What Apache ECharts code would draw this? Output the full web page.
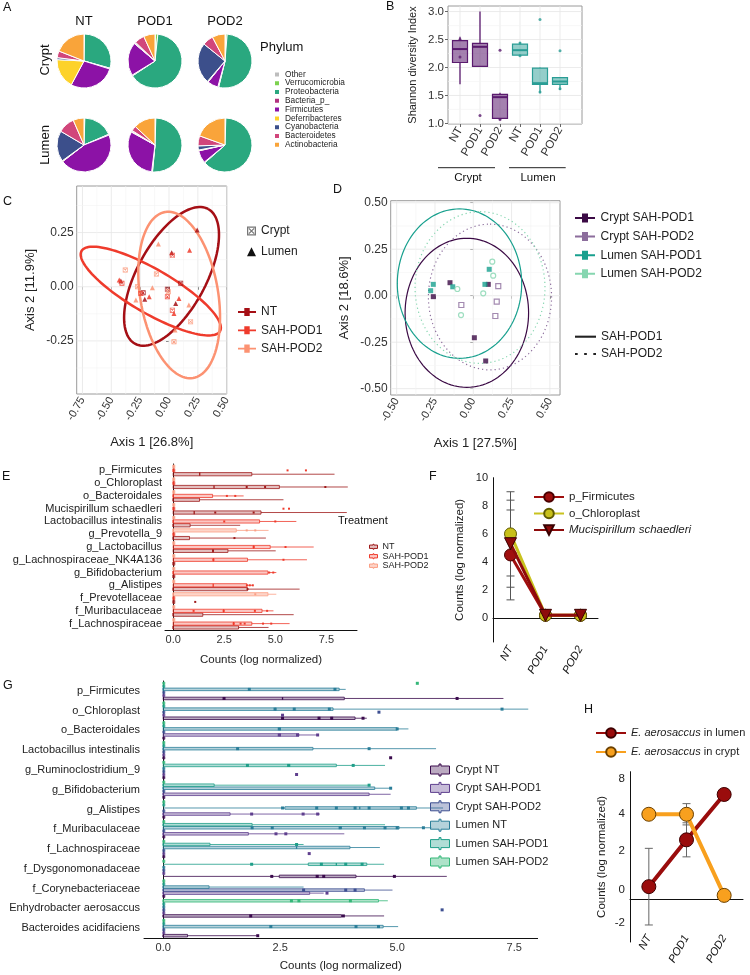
<!DOCTYPE html>
<html>
<head>
<meta charset="utf-8">
<script src="https://cdn.jsdelivr.net/npm/echarts@6/dist/echarts.min.js"></script>
<style>
html,body{margin:0;padding:0;background:#ffffff;}
#chart{width:750px;height:975px;}
</style>
</head>
<body>
<div id="chart"></div>
<script>
// ================= DATA =================
// ---- A: phylum composition (percent, clockwise from 12 o'clock) ----
const phyla = ['Other','Verrucomicrobia','Proteobacteria','Bacteria_p_','Firmicutes','Deferribacteres','Cyanobacteria','Bacteroidetes','Actinobacteria'];
const phylumColors = ['#bdbdbd','#7dd24f','#2aa87f','#b2327f','#8c12a6','#fdd22a','#3c4f8b','#d1467b','#f9a43a'];
const pieCols = ['NT','POD1','POD2'];
const pieRows = ['Crypt','Lumen'];
const cryptNT   = [0.0, 0.3, 29.0, 0.5, 28.0, 18.0, 1.2, 4.0, 19.0];
const cryptPOD1 = [0.2, 1.5, 64.0, 0.5, 20.0, 0.5, 0.5, 6.0, 6.8];
const cryptPOD2 = [0.3, 1.0, 52.5, 0.5, 6.5, 0.5, 24.5, 6.5, 7.7];
const lumenNT   = [0.3, 0.2, 18.0, 0.5, 45.5, 0.5, 18.5, 10.0, 6.5];
const lumenPOD1 = [0.3, 0.2, 51.0, 0.5, 31.0, 0.5, 0.5, 3.0, 13.0];
const lumenPOD2 = [0.3, 0.2, 63.0, 0.5, 7.5, 0.5, 2.5, 6.0, 19.5];

// ---- B: Shannon diversity boxplots [pos, min, q1, median, q3, max] ----
const bCats = ['NT','POD1','POD2','NT','POD1','POD2'];
const bSite = [0,0,0,1,1,1];
const bBoxes = [
  [1, 1.70, 2.09, 2.33, 2.48, 2.55],
  [2, 2.01, 2.02, 2.37, 2.43, 3.00],
  [3, 1.06, 1.09, 1.47, 1.52, 1.55],
  [4, 2.20, 2.22, 2.31, 2.42, 2.45],
  [5, 1.54, 1.70, 1.72, 1.99, 2.00],
  [6, 1.60, 1.70, 1.75, 1.82, 1.82]
];
const bPoints = [[1,2.19],[1,2.50],[2,1.14],[3,2.31],[3,1.07],[4,2.44],[4,2.21],[5,2.86],[5,1.56],[6,2.30],[6,1.62]];
const bTicksY = [1, 1.5, 2, 2.5, 3];
const bMinorY = [1.25, 1.75, 2.25, 2.75];

// ---- C: PCoA (x, y, site 0=crypt 1=lumen) ----
const cTicksX = [-0.75, -0.5, -0.25, 0, 0.25, 0.5];
const cMinorX = [-0.625, -0.375, -0.125, 0.125, 0.375];
const cTicksY = [-0.25, 0, 0.25];
const cMinorY = [-0.375, -0.125, 0.125, 0.375];
const cPtsNT   = [[0.244,0.262,1],[0.023,0.157,1],[0.101,0.016,0],[-0.210,-0.058,1],[-0.224,-0.028,0],[0.058,-0.077,1],[-0.014,-0.012,0],[-0.417,0.026,1]];
const cPtsPOD1 = [[0.178,0.169,1],[-0.431,0.031,1],[-0.408,0.016,0],[-0.244,-0.031,0],[0.086,-0.054,1],[0.029,-0.108,0],[0.043,-0.123,1],[-0.014,-0.046,0],[0.029,0.145,0],[-0.172,-0.046,1]];
const cPtsPOD2 = [[-0.092,0.197,1],[-0.109,0.059,0],[-0.379,0.077,0],[-0.144,-0.005,1],[-0.273,0.0,0],[0.187,-0.161,0],[0.052,-0.200,1],[0.043,-0.254,0],[0.172,-0.084,1],[-0.006,-0.023,0],[-0.287,-0.061,1]];
// ellipses: [cx, cy, ux, uy, vx, vy] (centre + two conjugate semi-axes)
const cEllNT   = [0.022, 0.048, 0.317, 0.311, -0.262, 0.076];
const cEllPOD1 = [-0.158, -0.020, 0.600, -0.185, 0.095, 0.088];
const cEllPOD2 = [0.088, -0.038, -0.121, 0.383, -0.333, -0.030];

// ---- D: PCoA ----
const dTicks = [-0.5, -0.25, 0, 0.25, 0.5];
const dMinor = [-0.375, -0.125, 0.125, 0.375];
const dCryptPOD1 = [[-0.152,0.070],[-0.261,-0.005],[0.007,-0.226],[0.098,0.061],[0.081,-0.351]];
const dCryptPOD2 = [[-0.078,-0.050],[0.163,0.052],[0.153,-0.032],[0.144,-0.109]];
const dLumenPOD1 = [[-0.261,0.061],[-0.278,0.027],[-0.134,0.048],[0.104,0.142],[0.076,0.061]];
const dLumenPOD2 = [[-0.104,0.036],[-0.080,-0.104],[0.124,0.183],[0.130,0.108],[0.065,0.013]];
const dEllCryptPOD1 = [-0.042, -0.092, 0, 0.401, 0.403, 0];
const dEllCryptPOD2 = [0.109, -0.007, 0, 0.392, 0.402, 0];
const dEllLumenPOD1 = [-0.090, 0.065, 0, 0.402, 0.406, 0];
const dEllLumenPOD2 = [0.044, 0.044, 0, 0.408, 0.424, 0];

// ---- E: taxa counts by treatment, [min, q1, median, q3, max] ----
const eCats = ['p_Firmicutes','o_Chloroplast','o_Bacteroidales','Mucispirillum schaedleri','Lactobacillus intestinalis','g_Prevotella_9','g_Lactobacillus','g_Lachnospiraceae_NK4A136','g_Bifidobacterium','g_Alistipes','f_Prevotellaceae','f_Muribaculaceae','f_Lachnospiraceae'];
const eGroups = ['NT','SAH-POD1','SAH-POD2'];
const eNT = [
  [0,0,1.30,3.85,7.90],[0,0,2.00,5.20,8.55],[0,0,0,1.29,5.40],[0,0,1.03,4.30,8.50],[0,0,0,0.83,3.28],
  [0,0,0,0.80,4.54],[0,0,1.95,2.68,5.02],[0,0,0,0,0],[0,0,0,0,0],[0,0,0,3.64,6.19],
  [0,0,0,0,0],[0,0,0,1.45,5.90],[0,0,0,3.20,4.67]
];
const ePOD1 = [
  [0,0,0,0,0],[0,0,0,0,0],[0,0,0,1.93,3.45],[0,0,0,0,0],[0,0,0,4.23,6.03],
  [0,0,0,0,0],[0,0,3.94,4.75,6.88],[0,0,1.97,3.64,6.55],[0,0,0,4.64,5.05],[0,0,1.96,3.61,3.90],
  [0,0,0,0,0],[0,0,2.47,4.35,4.91],[0,0,2.96,3.85,5.70]
];
const ePOD2 = [
  [0,0,0,0,0],[0,0,0,0,0],[0,0,0,0,0],[0,0,0,0,0],[0,0,0,0,0],
  [0,0,0,3.09,4.67],[0,0,0,0,0],[0,0,0,0,0],[0,0,0,0,0],[0,0,0,0,0],
  [0,0,0,4.64,5.05],[0,0,0,0,0],[0,0,0,0,0]
];
// points: [category, group, value]
const ePoints = [
  [0,1,5.6],[0,1,6.5],[1,0,3.6],[1,0,4.5],[1,0,7.45],[2,1,2.63],[2,1,3.04],
  [3,0,2.06],[3,0,3.94],[3,1,5.4],[3,1,5.67],[4,1,5.0],[4,1,2.5],
  [5,2,4.02],[5,2,3.6],[5,0,3.0],[6,1,3.94],[6,1,5.5],[6,0,1.95],[7,1,1.97],[7,1,5.4],
  [8,1,4.7],[8,1,4.9],[9,1,3.61],[9,1,3.75],[9,1,3.9],[9,0,3.64],[10,0,1.08],[10,2,4.02],
  [11,1,1.0],[11,1,2.47],[11,1,4.0],[11,1,4.6],[12,1,2.96],[12,1,3.3],[12,1,3.5],[12,1,4.4],[12,1,4.8]
];
const countTicks = [0, 2.5, 5, 7.5];

// ---- F: mean counts with error bars ----
const fCats = ['NT','POD1','POD2'];
const fFirmicutes = [4.5, 0.2, 0.2];
const fChloroplast = [6.0, 0.2, 0.2];
const fMucispirillum = [5.3, 0.2, 0.2];
const fErrFirmicutes = [[0, 1.3, 7.7]];
const fErrChloroplast = [[0, 3.0, 9.0]];
const fErrMucispirillum = [[0, 2.2, 8.4]];
const fTicksY = [0, 2, 4, 6, 8, 10];

// ---- G: taxa counts by site x treatment ----
const gCats = ['p_Firmicutes','o_Chloroplast','o_Bacteroidales','Lactobacillus intestinalis','g_Ruminoclostridium_9','g_Bifidobacterium','g_Alistipes','f_Muribaculaceae','f_Lachnospiraceae','f_Dysgonomonadaceae','f_Corynebacteriaceae','Enhydrobacter aerosaccus','Bacteroides acidifaciens'];
const gGroups = ['Crypt NT','Crypt SAH-POD1','Crypt SAH-POD2','Lumen NT','Lumen SAH-POD1','Lumen SAH-POD2'];
const gCryptNT = [
  [0,0,2.55,3.87,7.27],[0,0,3.60,4.10,4.35],[0,0,0,0,0],[0,0,0,0,0],[0,0,0,0,0],[0,0,0,0,0],[0,0,0,0,0],
  [0,0,0,0,0],[0,0,0,0,0],[0,2.48,3.30,4.12,6.06],[0,0,0,0,0],[0,0,0,3.81,4.72],[0,0,0,0.52,2.00]
];
const gCryptPOD1 = [
  [0,0,0,0,0],[0,0,0,0,0],[0,0,2.50,2.90,3.30],[0,0,0,0,0],[0,0,0,0,0],[0,0,0,4.40,4.86],[0,0,0,1.43,3.35],
  [0,0,0,1.82,3.87],[0,0,0,0,0],[0,0,0,0,0],[0,0,0,3.13,3.43],[0,0,0,0,0],[0,0,0,0,0]
];
const gCryptPOD2 = [
  [0,0,0,0,0],[0,0,0,0,0],[0,0,0,0,0],[0,0,0,0,0],[0,0,0,0,0],[0,0,0,0,0],[0,0,0,0,0],
  [0,0,0,0,0],[0,0,0,0,0],[0,0,0,0,0],[0,0,0,4.30,4.90],[0,0,0,0,0],[0,0,0,0,0]
];
const gLumenNT = [
  [0,0,0,3.76,3.90],[0,0,2.40,3.63,7.80],[0,0,2.50,5.00,5.24],[0,0,0,3.20,5.83],[0,0,0,0,0],[0,0,0,4.52,4.86],[0,2.60,4.20,5.41,5.98],
  [0,0,3.80,5.04,5.73],[0,0,2.85,3.99,4.63],[0,0,0,0,0],[0,0,0,0.98,3.00],[0,0,0,0,0],[0,0,0,4.70,5.02]
];
const gLumenPOD1 = [
  [0,0,0,0,0],[0,0,0,0,0],[0,0,0,0,0],[0,0,0,0,0],[0,0,2.70,3.70,4.74],[0,0,0,1.09,4.40],[0,0,0,0,0],
  [0,0,0,1.90,4.74],[0,0,0,1.00,3.00],[0,3.10,3.70,4.35,4.72],[0,0,0,0,0],[0,0,0,0,0],[0,0,0,0,0]
];
const gLumenPOD2 = [
  [0,0,0,0,0],[0,0,0,0,0],[0,0,0,0,0],[0,0,0,0,0],[0,0,0,0,0],[0,0,0,0,0],[0,0,0,0,0],
  [0,0,0,0,0],[0,0,0,0,0],[0,0,0,0,0],[0,0,0,0,0],[0,0,0,4.60,4.80],[0,0,0,0,0]
];
const gPoints = [
  [0,0,1.3],[0,0,6.28],[0,3,1.84],[0,3,3.67],[0,5,5.43],
  [1,0,2.55],[1,0,3.33],[1,0,3.6],[1,0,4.27],[1,3,2.39],[1,3,2.8],[1,3,3.55],[1,3,7.24],[1,2,4.61],[1,1,2.55],
  [2,1,2.48],[2,1,2.87],[2,1,3.3],[2,3,2.48],[2,3,5.0],
  [3,3,1.59],[3,3,4.4],[3,0,4.86],
  [4,4,1.8],[4,4,2.68],[4,4,4.06],[4,1,2.85],
  [5,4,4.4],[5,3,4.86],
  [6,3,3.28],[6,3,3.7],[6,3,4.1],[6,3,4.4],[6,3,5.09],[6,3,5.24],[6,3,2.55],[6,1,1.89],[6,1,2.99],[6,1,3.3],
  [7,3,1.9],[7,3,2.33],[7,3,3.78],[7,3,4.3],[7,3,4.74],[7,3,5.0],[7,3,5.56],[7,1,2.41],[7,1,2.62],
  [8,4,2.85],[8,1,3.12],
  [9,4,1.89],[9,4,3.38],[9,4,3.9],[9,4,4.25],[9,0,2.32],[9,0,3.29],[9,0,3.43],[9,0,4.94],
  [10,2,3.0],[10,2,3.9],[10,2,4.1],[10,1,3.5],
  [11,5,2.74],[11,5,2.9],[11,5,4.0],[11,0,1.87],[11,0,3.85],[11,2,5.96],
  [12,3,2.3],[12,3,4.12],[12,3,4.6],[12,0,2.02]
];

// ---- H: E. aerosaccus ----
const hCats = ['NT','POD1','POD2'];
const hLumen = [0.6, 2.8, 4.93];
const hCrypt = [4.0, 4.0, 0.19];
const hErrLumen = [[0, -1.2, 2.4], [1, 2.0, 3.6]];
const hErrCrypt = [[1, 3.5, 4.5]];
const hTicksY = [-2, -1, 0, 1, 2, 3, 4, 5, 6];
const hTickLabels = ['-2', '0', '2', '4', '8'];
const hTickLabelAt = [-1.1, 0.47, 2.28, 4.0, 5.65];

// ================= STYLE / HELPERS =================
const FONT = 'Liberation Sans, Arial, Helvetica, sans-serif';
const strip = n => n.slice(n.indexOf('|') + 1);
const bStroke = ['#5a1a6e', '#2a9d95'];
const bFill = ['rgba(90,26,110,0.55)', 'rgba(42,157,149,0.5)'];
const cColors = ['#a50f15', '#ef3b2c', '#fc9272'];
const dColors = ['#3b0a45', '#8c6d9c', '#18a08e', '#86d6b0'];
const eStroke = ['#9e1a1a', '#ef3b2c', '#fb9f85'];
const eFill = ['rgba(158,26,26,0.28)', 'rgba(239,59,44,0.28)', 'rgba(251,159,133,0.45)'];
const gStroke = ['#3b0b4d', '#5f3f8e', '#3d4f91', '#2a7d98', '#1f9e89', '#35b779'];
const gFill = ['rgba(59,11,77,0.35)', 'rgba(95,63,142,0.35)', 'rgba(61,79,145,0.35)', 'rgba(42,125,152,0.35)', 'rgba(31,158,137,0.35)', 'rgba(53,183,121,0.4)'];
const squareX = 'path://M0,0H10V10H0Z M1.4,1.4V8.6H8.6V1.4Z M1.6,2.6L2.6,1.6L8.4,7.4L7.4,8.4Z M7.4,1.6L8.4,2.6L2.6,8.4L1.6,7.4Z';
const lineSq = 'path://M0,4H7V0.5H13V4H20V6H13V9.5H7V6H0Z';
const boxIcon = 'path://M9.5,0H11.5V2H20V10H11.5V12H9.5V10H1V2H9.5Z';
const solidIcon = 'path://M0,4H20V6H0Z';
const dotIcon = 'path://M0,4H2.5V6H0Z M8.5,4H11V6H8.5Z M17,4H19.5V6H17Z';

function gridLineSeries(idx, xs, ys, xRef, yRef, color, width) {
  const out = [];
  if (xs.length) out.push({type:'custom', xAxisIndex:idx, yAxisIndex:idx, silent:true, z:1, data: xs.map(v => [v, yRef]),
    renderItem: (p, api) => { const cs = p.coordSys; const x = api.coord([api.value(0), api.value(1)])[0];
      return {type:'line', shape:{x1:x, y1:cs.y, x2:x, y2:cs.y + cs.height}, style:{stroke:color, lineWidth:width}}; }});
  if (ys.length) out.push({type:'custom', xAxisIndex:idx, yAxisIndex:idx, silent:true, z:1, data: ys.map(v => [xRef, v]),
    renderItem: (p, api) => { const cs = p.coordSys; const y = api.coord([api.value(0), api.value(1)])[1];
      return {type:'line', shape:{x1:cs.x, y1:y, x2:cs.x + cs.width, y2:y}, style:{stroke:color, lineWidth:width}}; }});
  return out;
}
function ellipseRender(color, width, dash) {
  return (p, api) => {
    const cx = api.value(0), cy = api.value(1), ux = api.value(2), uy = api.value(3), vx = api.value(4), vy = api.value(5);
    const pts = [];
    for (let k = 0; k <= 120; k++) { const t = k / 120 * 2 * Math.PI;
      pts.push(api.coord([cx + ux * Math.cos(t) + vx * Math.sin(t), cy + uy * Math.cos(t) + vy * Math.sin(t)])); }
    return {type:'polyline', shape:{points:pts}, style:{stroke:color, fill:null, lineWidth:width, lineDash:dash || null}};
  };
}
function hBoxRender(n, strokes, fills, frac) {
  return (p, api) => {
    const cat = api.value(0), g = api.value(1);
    const band = api.size([0, 1])[1];
    const step = band * frac / n;
    const off = ((n - 1) / 2 - g) * step;
    const h = step * 0.84;
    const y = api.coord([0, cat])[1] + off;
    const X = v => api.coord([v, cat])[0];
    const xmin = X(api.value(2)), xq1 = X(api.value(3)), xmed = X(api.value(4)), xmax = X(api.value(6));
    let xq3 = X(api.value(5));
    if (xq3 - xq1 < 1.6) xq3 = xq1 + 1.6;
    const s = strokes[g], f = fills[g];
    return {type:'group', children:[
      {type:'line', shape:{x1:xmin, y1:y, x2:xq1, y2:y}, style:{stroke:s, lineWidth:0.8}},
      {type:'line', shape:{x1:xq3, y1:y, x2:xmax, y2:y}, style:{stroke:s, lineWidth:0.8}},
      {type:'rect', shape:{x:xq1, y:y - h / 2, width:xq3 - xq1, height:h}, style:{fill:f, stroke:s, lineWidth:0.8}},
      {type:'line', shape:{x1:xmed, y1:y - h / 2, x2:xmed, y2:y + h / 2}, style:{stroke:s, lineWidth:1.3}}
    ]};
  };
}
function hPointRender(n, colors, frac, size) {
  return (p, api) => {
    const cat = api.value(0), g = api.value(1), v = api.value(2);
    const band = api.size([0, 1])[1];
    const step = band * frac / n;
    const off = ((n - 1) / 2 - g) * step;
    const pt = api.coord([v, cat]);
    return {type:'rect', shape:{x:pt[0] - size / 2, y:pt[1] + off - size / 2, width:size, height:size}, style:{fill:colors[g]}};
  };
}
function errRender(color, cap) {
  return (p, api) => {
    const lo = api.coord([api.value(0), api.value(1)]), hi = api.coord([api.value(0), api.value(2)]);
    const st = {stroke:color, lineWidth:1};
    return {type:'group', children:[
      {type:'line', shape:{x1:lo[0], y1:lo[1], x2:hi[0], y2:hi[1]}, style:st},
      {type:'line', shape:{x1:lo[0] - cap, y1:lo[1], x2:lo[0] + cap, y2:lo[1]}, style:st},
      {type:'line', shape:{x1:hi[0] - cap, y1:hi[1], x2:hi[0] + cap, y2:hi[1]}, style:st}
    ]};
  };
}
function vBoxRender(p, api) {
  const x = api.value(0); const site = bSite[p.dataIndex];
  const P = v => api.coord([x, v]);
  const cx = P(0)[0], w = 15;
  const ymin = P(api.value(1))[1], yq1 = P(api.value(2))[1], ymed = P(api.value(3))[1], yq3 = P(api.value(4))[1], ymax = P(api.value(5))[1];
  const s = bStroke[site], f = bFill[site];
  return {type:'group', children:[
    {type:'line', shape:{x1:cx, y1:ymin, x2:cx, y2:yq1}, style:{stroke:s, lineWidth:1.3}},
    {type:'line', shape:{x1:cx, y1:yq3, x2:cx, y2:ymax}, style:{stroke:s, lineWidth:1.3}},
    {type:'rect', shape:{x:cx - w / 2, y:yq3, width:w, height:yq1 - yq3}, style:{fill:f, stroke:s, lineWidth:1.2}},
    {type:'line', shape:{x1:cx - w / 2, y1:ymed, x2:cx + w / 2, y2:ymed}, style:{stroke:s, lineWidth:2}}
  ]};
}

const axTxt = {color:'#333', fontFamily:FONT};
const blackLine = {show:true, lineStyle:{color:'#111', width:1}};

// ================= AXES =================
const grid = [
  {left:448, top:6, width:134, height:118, show:true, borderColor:'#9a9a9a', borderWidth:1, backgroundColor:'#fff'},   // B
  {left:76.7, top:186, width:150, height:208, show:true, borderColor:'#9a9a9a', borderWidth:1, backgroundColor:'#fff'}, // C
  {left:390.7, top:200.7, width:169.3, height:194.3, show:true, borderColor:'#9a9a9a', borderWidth:1, backgroundColor:'#fff'}, // D
  {left:165, top:464, width:192, height:166},  // E
  {left:493, top:477.7, width:105, height:164.3}, // F
  {left:144, top:681, width:393.6, height:257}, // G
  {left:630, top:771.7, width:113, height:170.3} // H
];
const xAxis = [
  {gridIndex:0, type:'value', min:0.4, max:7.1, axisLine:{show:false}, splitLine:{show:false},
   axisTick:{customValues:[1,2,3,4,5,6], length:3, lineStyle:{color:'#666'}},
   axisLabel:{customValues:[1,2,3,4,5,6], formatter: v => bCats[Math.round(v) - 1], rotate:60, fontSize:11.5, margin:4, ...axTxt}},
  {gridIndex:1, type:'value', min:-0.8, max:0.5, axisLine:{show:false}, splitLine:{show:false},
   axisTick:{customValues:cTicksX, length:3, lineStyle:{color:'#666'}},
   axisLabel:{customValues:cTicksX, formatter: v => v.toFixed(2), rotate:60, fontSize:11, margin:4, ...axTxt},
   name:'Axis 1 [26.8%]', nameLocation:'middle', nameGap:42, nameTextStyle:{fontSize:13, color:'#222', fontFamily:FONT}},
  {gridIndex:2, type:'value', min:-0.539, max:0.566, axisLine:{show:false}, splitLine:{show:false},
   axisTick:{customValues:dTicks, length:3, lineStyle:{color:'#666'}},
   axisLabel:{customValues:dTicks, formatter: v => v.toFixed(2), rotate:60, fontSize:11, margin:4, ...axTxt},
   name:'Axis 1 [27.5%]', nameLocation:'middle', nameGap:42, nameTextStyle:{fontSize:13, color:'#222', fontFamily:FONT}},
  {gridIndex:3, type:'value', min:-0.4, max:9.0, axisLine:blackLine, splitLine:{show:false},
   axisTick:{customValues:countTicks, length:3, lineStyle:{color:'#111'}},
   axisLabel:{customValues:countTicks, formatter: v => v.toFixed(1), fontSize:11, margin:4, ...axTxt},
   name:'Counts (log normalized)', nameLocation:'middle', nameGap:24, nameTextStyle:{fontSize:11.5, color:'#222', fontFamily:FONT}},
  {gridIndex:4, type:'category', data:fCats, boundaryGap:true, axisLine:blackLine, axisTick:{show:false},
   axisLabel:{rotate:60, fontSize:11, fontStyle:'italic', margin:5, color:'#111', fontFamily:FONT}},
  {gridIndex:5, type:'value', min:-0.41, max:8.0, axisLine:blackLine, splitLine:{show:false},
   axisTick:{customValues:countTicks, length:3, lineStyle:{color:'#111'}},
   axisLabel:{customValues:countTicks, formatter: v => v.toFixed(1), fontSize:11, margin:4, ...axTxt},
   name:'Counts (log normalized)', nameLocation:'middle', nameGap:22, nameTextStyle:{fontSize:11.5, color:'#222', fontFamily:FONT}},
  {gridIndex:6, type:'category', data:hCats, boundaryGap:true, offset:-11, axisLine:blackLine, axisTick:{show:false},
   axisLabel:{rotate:60, fontSize:11, fontStyle:'italic', margin:5, color:'#111', fontFamily:FONT}}
];
const yAxis = [
  {gridIndex:0, type:'value', min:0.99, max:3.1, axisLine:{show:false}, splitLine:{show:false},
   axisTick:{customValues:bTicksY, length:3, lineStyle:{color:'#666'}},
   axisLabel:{customValues:bTicksY, formatter: v => v.toFixed(1), fontSize:11.5, margin:4, ...axTxt},
   name:'Shannon diversity Index', nameLocation:'middle', nameGap:30, nameTextStyle:{fontSize:11, color:'#222', fontFamily:FONT}},
  {gridIndex:1, type:'value', min:-0.495, max:0.465, axisLine:{show:false}, splitLine:{show:false},
   axisTick:{customValues:cTicksY, length:3, lineStyle:{color:'#666'}},
   axisLabel:{customValues:cTicksY, formatter: v => v.toFixed(2), fontSize:12, margin:3, ...axTxt},
   name:'Axis 2 [11.9%]', nameLocation:'middle', nameGap:40, nameTextStyle:{fontSize:13, color:'#222', fontFamily:FONT}},
  {gridIndex:2, type:'value', min:-0.534, max:0.511, axisLine:{show:false}, splitLine:{show:false},
   axisTick:{customValues:dTicks, length:3, lineStyle:{color:'#666'}},
   axisLabel:{customValues:dTicks, formatter: v => v.toFixed(2), fontSize:12, margin:3, ...axTxt},
   name:'Axis 2 [18.6%]', nameLocation:'middle', nameGap:40, nameTextStyle:{fontSize:13, color:'#222', fontFamily:FONT}},
  {gridIndex:3, type:'category', data:eCats, inverse:true, axisLine:blackLine,
   axisTick:{alignWithLabel:true, interval:0, length:3, lineStyle:{color:'#111'}},
   axisLabel:{interval:0, fontSize:11, margin:3, color:'#222', fontFamily:FONT}},
  {gridIndex:4, type:'value', min:-1.7, max:10, axisLine:blackLine, splitLine:{show:false},
   axisTick:{customValues:fTicksY, length:4, lineStyle:{color:'#111'}},
   axisLabel:{customValues:fTicksY, fontSize:11, margin:5, color:'#222', fontFamily:FONT},
   name:'Counts (log normalized)', nameLocation:'middle', nameGap:27, nameTextStyle:{fontSize:11.5, color:'#222', fontFamily:FONT}},
  {gridIndex:5, type:'category', data:gCats, inverse:true, axisLine:blackLine,
   axisTick:{alignWithLabel:true, interval:0, length:3, lineStyle:{color:'#111'}},
   axisLabel:{interval:0, fontSize:11, margin:4, color:'#222', fontFamily:FONT}},
  {gridIndex:6, type:'value', min:-2, max:6, axisLine:blackLine, splitLine:{show:false},
   axisTick:{customValues:hTicksY, length:4, lineStyle:{color:'#111'}},
   axisLabel:{customValues:hTickLabelAt, formatter: v => { let bi = 0; hTickLabelAt.forEach((t, i) => { if (Math.abs(t - v) < Math.abs(hTickLabelAt[bi] - v)) bi = i; }); return hTickLabels[bi]; },
     fontSize:11.5, margin:5, color:'#222', fontFamily:FONT},
   name:'Counts (log normalized)', nameLocation:'middle', nameGap:22, nameTextStyle:{fontSize:11.5, color:'#222', fontFamily:FONT}}
];

// ================= SERIES =================
const series = [];
// A pies
const pieX = [84, 155, 225], pieY = [61, 145];
[[cryptNT, cryptPOD1, cryptPOD2], [lumenNT, lumenPOD1, lumenPOD2]].forEach((row, r) => {
  row.forEach((vals, c) => series.push({
    type:'pie', name:'pie ' + pieRows[r] + ' ' + pieCols[c], radius:27, center:[pieX[c], pieY[r]], startAngle:90, clockwise:true,
    silent:true, label:{show:false}, labelLine:{show:false}, color:phylumColors,
    itemStyle:{borderColor:'#fff', borderWidth:1}, data: phyla.map((n, k) => ({name:n, value:vals[k]}))
  }));
});
// B
series.push(...gridLineSeries(0, [1,2,3,4,5,6], [], 1, 2, '#e6e6e6', 0.8));
series.push(...gridLineSeries(0, [], bTicksY, 1, 2, '#e6e6e6', 0.8));
series.push(...gridLineSeries(0, [], bMinorY, 1, 2, '#f3f3f3', 0.6));
series.push({type:'custom', name:'B boxes', xAxisIndex:0, yAxisIndex:0, z:3, silent:true, encode:{x:0, y:[1,2,3,4,5]}, data:bBoxes, renderItem:vBoxRender});
series.push({type:'scatter', name:'B points', xAxisIndex:0, yAxisIndex:0, z:4, silent:true, symbolSize:3, data:bPoints,
  itemStyle:{color: p => bStroke[bSite[p.value[0] - 1]]}});
// C
series.push(...gridLineSeries(1, cTicksX, cTicksY, 0, 0, '#e6e6e6', 0.8));
series.push(...gridLineSeries(1, cMinorX, cMinorY, 0, 0, '#f3f3f3', 0.6));
[['C|NT', cEllNT, cPtsNT], ['C|SAH-POD1', cEllPOD1, cPtsPOD1], ['C|SAH-POD2', cEllPOD2, cPtsPOD2]].forEach((d, i) => {
  series.push({type:'custom', name:d[0], xAxisIndex:1, yAxisIndex:1, z:3, silent:true, itemStyle:{color:cColors[i]},
    encode:{x:0, y:1}, data:[d[1]], renderItem:ellipseRender(cColors[i], 2.5)});
  series.push({type:'scatter', name:'Cpts ' + i, xAxisIndex:1, yAxisIndex:1, z:4, silent:true, data:d[2], symbolSize:5,
    symbol: v => v[2] === 0 ? squareX : 'triangle', itemStyle:{color:cColors[i], opacity:0.85}});
});
series.push({type:'line', name:'C|Crypt', xAxisIndex:1, yAxisIndex:1, data:[], itemStyle:{color:'#777'}});
series.push({type:'line', name:'C|Lumen', xAxisIndex:1, yAxisIndex:1, data:[], itemStyle:{color:'#111'}});
// D
series.push(...gridLineSeries(2, dTicks, dTicks, 0, 0, '#e6e6e6', 0.8));
series.push(...gridLineSeries(2, dMinor, dMinor, 0, 0, '#f3f3f3', 0.6));
const dSets = [
  ['D|Crypt SAH-POD1', dEllCryptPOD1, dCryptPOD1, null, 'rect', true],
  ['D|Crypt SAH-POD2', dEllCryptPOD2, dCryptPOD2, [1.2, 3], 'rect', false],
  ['D|Lumen SAH-POD1', dEllLumenPOD1, dLumenPOD1, null, 'rect', true],
  ['D|Lumen SAH-POD2', dEllLumenPOD2, dLumenPOD2, [1.2, 3], 'circle', false]
];
dSets.forEach((d, i) => {
  series.push({type:'custom', name:d[0], xAxisIndex:2, yAxisIndex:2, z:3, silent:true, itemStyle:{color:dColors[i]},
    encode:{x:0, y:1}, data:[d[1]], renderItem:ellipseRender(dColors[i], 1.2, d[3])});
  series.push({type:'scatter', name:d[0], xAxisIndex:2, yAxisIndex:2, z:4, silent:true, data:d[2], symbol:d[4], symbolSize:5,
    itemStyle: d[5] ? {color:dColors[i]} : {color:'#fff', borderColor:dColors[i], borderWidth:1.2}});
});
series.push({type:'line', name:'D|SAH-POD1', xAxisIndex:2, yAxisIndex:2, data:[], itemStyle:{color:'#222'}});
series.push({type:'line', name:'D|SAH-POD2', xAxisIndex:2, yAxisIndex:2, data:[], itemStyle:{color:'#222'}});
// E
[eNT, ePOD1, ePOD2].forEach((arr, g) => {
  series.push({type:'custom', name:'E|' + eGroups[g], xAxisIndex:3, yAxisIndex:3, z:3, silent:true,
    itemStyle:{color:eFill[g], borderColor:eStroke[g]}, encode:{x:[2,3,4,5,6], y:0},
    data: arr.map((s, i) => [i, g].concat(s)), renderItem:hBoxRender(3, eStroke, eFill, 0.9)});
});
series.push({type:'custom', name:'E points', xAxisIndex:3, yAxisIndex:3, z:4, silent:true, encode:{x:2, y:0},
  data:ePoints, renderItem:hPointRender(3, eStroke, 0.9, 2)});
// F
series.push({type:'custom', name:'F err1', xAxisIndex:4, yAxisIndex:4, z:2, silent:true, encode:{x:0, y:[1,2]}, data:fErrFirmicutes, renderItem:errRender('#555', 4)});
series.push({type:'custom', name:'F err2', xAxisIndex:4, yAxisIndex:4, z:2, silent:true, encode:{x:0, y:[1,2]}, data:fErrChloroplast, renderItem:errRender('#555', 4)});
series.push({type:'custom', name:'F err3', xAxisIndex:4, yAxisIndex:4, z:2, silent:true, encode:{x:0, y:[1,2]}, data:fErrMucispirillum, renderItem:errRender('#555', 4)});
series.push({type:'line', name:'F|p_Firmicutes', xAxisIndex:4, yAxisIndex:4, z:5, data:fFirmicutes, symbol:'circle', symbolSize:12,
  lineStyle:{width:3, color:'#a00f0f'}, itemStyle:{color:'#a00f0f', borderColor:'#4a0000', borderWidth:1}});
series.push({type:'line', name:'F|o_Chloroplast', xAxisIndex:4, yAxisIndex:4, z:5, data:fChloroplast, symbol:'circle', symbolSize:12,
  lineStyle:{width:3, color:'#c9c21f'}, itemStyle:{color:'#c8c01a', borderColor:'#5f5a00', borderWidth:1}});
series.push({type:'line', name:'F|Mucispirillum schaedleri', xAxisIndex:4, yAxisIndex:4, z:6, data:fMucispirillum, symbol:'triangle', symbolRotate:180, symbolSize:12,
  lineStyle:{width:3, color:'#8e0b0b'}, itemStyle:{color:'#8e0b0b', borderColor:'#3a0000', borderWidth:1}});
// G
[gCryptNT, gCryptPOD1, gCryptPOD2, gLumenNT, gLumenPOD1, gLumenPOD2].forEach((arr, g) => {
  series.push({type:'custom', name:'G|' + gGroups[g], xAxisIndex:5, yAxisIndex:5, z:3, silent:true,
    itemStyle:{color:gFill[g], borderColor:gStroke[g]}, encode:{x:[2,3,4,5,6], y:0},
    data: arr.map((s, i) => [i, g].concat(s)), renderItem:hBoxRender(6, gStroke, gFill, 0.92)});
});
series.push({type:'custom', name:'G points', xAxisIndex:5, yAxisIndex:5, z:4, silent:true, encode:{x:2, y:0},
  data:gPoints, renderItem:hPointRender(6, gStroke, 0.92, 3)});
// H
series.push({type:'custom', name:'H err1', xAxisIndex:6, yAxisIndex:6, z:2, silent:true, encode:{x:0, y:[1,2]}, data:hErrLumen, renderItem:errRender('#666', 4)});
series.push({type:'custom', name:'H err2', xAxisIndex:6, yAxisIndex:6, z:2, silent:true, encode:{x:0, y:[1,2]}, data:hErrCrypt, renderItem:errRender('#666', 4)});
series.push({type:'line', name:'H|lumen', xAxisIndex:6, yAxisIndex:6, z:5, data:hLumen, symbol:'circle', symbolSize:14,
  lineStyle:{width:4, color:'#9a0c0c'}, itemStyle:{color:'#9a0c0c', borderColor:'#3d0000', borderWidth:1}});
series.push({type:'line', name:'H|crypt', xAxisIndex:6, yAxisIndex:6, z:5, data:hCrypt, symbol:'circle', symbolSize:14,
  lineStyle:{width:4, color:'#f8a01e'}, itemStyle:{color:'#f8a01e', borderColor:'#6b4000', borderWidth:1}});

// ================= LEGENDS =================
const legTxt = (size, lh) => ({fontSize:size, lineHeight:lh, color:'#222', fontFamily:FONT});
const legend = [
  {orient:'vertical', left:268, top:65, itemWidth:6, itemHeight:6, itemGap:0, icon:'rect', selectedMode:false,
   textStyle:legTxt(8.3, 8.8), data:phyla},
  {orient:'vertical', left:242, top:219, itemWidth:9, itemHeight:9, itemGap:6.7, selectedMode:false, formatter:strip,
   textStyle:legTxt(12, 14), data:[{name:'C|Crypt', icon:squareX, itemStyle:{color:'#777'}}, {name:'C|Lumen', icon:'triangle', itemStyle:{color:'#111'}}]},
  {orient:'vertical', left:233, top:300, itemWidth:18, itemHeight:9, itemGap:4.3, selectedMode:false, formatter:strip,
   textStyle:legTxt(12, 14), data:['C|NT','C|SAH-POD1','C|SAH-POD2'].map((n, i) => ({name:n, icon:lineSq, itemStyle:{color:cColors[i]}}))},
  {orient:'vertical', left:570, top:206, itemWidth:21, itemHeight:9, itemGap:4.6, selectedMode:false, formatter:strip,
   textStyle:legTxt(12, 14), data:dSets.map((d, i) => ({name:d[0], icon:lineSq, itemStyle:{color:dColors[i]}}))},
  {orient:'vertical', left:570, top:324.7, itemWidth:21, itemHeight:9, itemGap:3.3, selectedMode:false, formatter:strip,
   textStyle:legTxt(12, 14), data:[{name:'D|SAH-POD1', icon:solidIcon, itemStyle:{color:'#222'}}, {name:'D|SAH-POD2', icon:dotIcon, itemStyle:{color:'#222'}}]},
  {orient:'vertical', left:364, top:537, itemWidth:8, itemHeight:7, itemGap:0, selectedMode:false, formatter:strip,
   textStyle:legTxt(9, 9.5), data:eGroups.map((n, i) => ({name:'E|' + n, icon:boxIcon, itemStyle:{color:eFill[i], borderColor:eStroke[i], borderWidth:1}}))},
  {orient:'vertical', left:528, top:485, itemWidth:30, itemHeight:12, itemGap:2.5, selectedMode:false,
   formatter: n => n === 'F|Mucispirillum schaedleri' ? '{i|Mucispirillum schaedleri}' : strip(n),
   textStyle:{...legTxt(11.5, 14), rich:{i:{fontStyle:'italic', fontSize:11.5, fontFamily:FONT, color:'#222'}}},
   data:['F|p_Firmicutes','F|o_Chloroplast','F|Mucispirillum schaedleri']},
  {orient:'vertical', left:425, top:758, itemWidth:21, itemHeight:12, itemGap:4.4, selectedMode:false, formatter:strip,
   textStyle:legTxt(11, 14), data:gGroups.map((n, i) => ({name:'G|' + n, icon:boxIcon, itemStyle:{color:gFill[i], borderColor:gStroke[i], borderWidth:1}}))},
  {orient:'vertical', left:590, top:721, itemWidth:30, itemHeight:12, itemGap:5, selectedMode:false,
   formatter: n => n === 'H|lumen' ? '{i|E. aerosaccus} in lumen' : '{i|E. aerosaccus} in crypt',
   textStyle:{...legTxt(11, 14), rich:{i:{fontStyle:'italic', fontSize:11, fontFamily:FONT, color:'#222'}}},
   data:['H|lumen','H|crypt']}
];

// ================= GRAPHIC TEXT =================
function T(x, y, s, size, extra) {
  return Object.assign({type:'text', x:x, y:y, silent:true,
    style:{text:s, fontSize:size, fontFamily:FONT, fill:'#111', align:'left', verticalAlign:'middle'}}, extra || {});
}
function Tc(x, y, s, size, rot) {
  return {type:'text', x:x, y:y, rotation:rot || 0, silent:true,
    style:{text:s, fontSize:size, fontFamily:FONT, fill:'#111', align:'center', verticalAlign:'middle'}};
}
const graphic = [
  T(3, 8, 'A', 12.5), T(386, 7, 'B', 12.5), T(3, 202, 'C', 12.5), T(333, 190, 'D', 12.5),
  T(2, 477, 'E', 12.5), T(429, 477, 'F', 12.5), T(3, 686, 'G', 12.5), T(584, 710, 'H', 12.5),
  Tc(pieX[0], 21, pieCols[0], 13), Tc(pieX[1], 21, pieCols[1], 13), Tc(pieX[2], 21, pieCols[2], 13),
  Tc(45, 60, pieRows[0], 13, Math.PI / 2), Tc(45, 145, pieRows[1], 13, Math.PI / 2),
  T(260, 47, 'Phylum', 13),
  {type:'line', silent:true, shape:{x1:438, y1:167.7, x2:495, y2:167.7}, style:{stroke:'#222', lineWidth:1}},
  {type:'line', silent:true, shape:{x1:509, y1:167.7, x2:565.7, y2:167.7}, style:{stroke:'#222', lineWidth:1}},
  Tc(468, 177.5, 'Crypt', 11.5), Tc(538, 177.5, 'Lumen', 11.5),
  T(338, 521, 'Treatment', 11)
];

const chart = echarts.init(document.getElementById('chart'), null, {renderer:'canvas'});
chart.setOption({
  animation:false,
  backgroundColor:'#ffffff',
  textStyle:{fontFamily:FONT},
  grid, xAxis, yAxis, series, legend, graphic
});
</script>
</body>
</html>
